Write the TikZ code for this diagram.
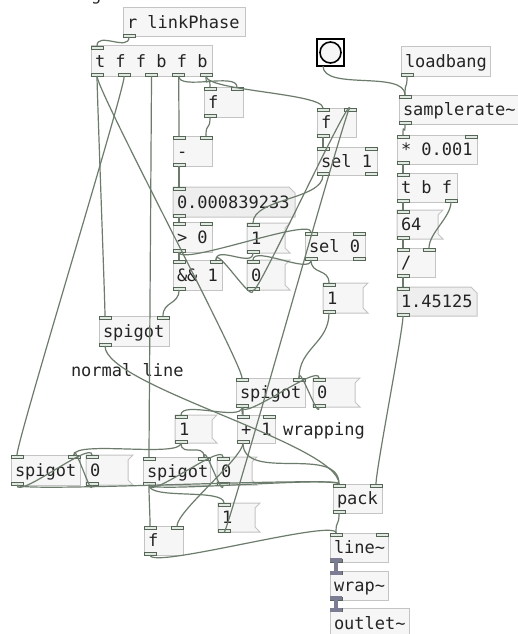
\documentclass[tikz,border=0pt]{standalone}
\usepackage{fontspec}
\setmonofont{DejaVu Sans Mono}

\definecolor{boxline}{HTML}{C4C4C4}
\definecolor{boxfill}{HTML}{F6F6F6}
\definecolor{numfill}{HTML}{EEEEEE}
\definecolor{portline}{HTML}{566656}
\definecolor{portfill}{HTML}{E2E8E2}
\definecolor{cordc}{HTML}{6C7C6C}
\definecolor{sigc}{HTML}{7C7C92}
\definecolor{txt}{HTML}{242424}

\tikzset{
  pdshape/.style={inner sep=0pt, outer sep=0pt},
  pdtext/.style={inner sep=0pt, outer sep=0pt, text=txt, font=\ttfamily\fontsize{17}{19}\selectfont},
  boxpath/.style={draw=boxline, fill=boxfill, line width=1pt},
  numpath/.style={draw=boxline, fill=numfill, line width=1pt},
  port/.style={draw=portline, fill=portfill, line width=0.9pt},
  sigport/.style={fill=sigc},
  cord/.style={draw=cordc, line width=1.2pt, to path={.. controls +(0,#1) and +(0,-#1) .. (\tikztotarget)}},
  cord/.default=15,
  sigcord/.style={draw=sigc, line width=4.5pt},
}

\newcommand\pdports[4]{%
  \ifnum#3>0
    \pgfmathtruncatemacro\plast{#3-1}%
    \foreach \k in {0,...,\plast}{%
      \pgfmathsetmacro\px{\k*(#2-12)/max(#3-1,1)}%
      \pgfmathsetmacro\pc{\px+6}%
      \draw[port] ([xshift=\px pt]#1.north west) rectangle ++(12,3);
      \coordinate (#1-i\k) at ([xshift=\pc pt]#1.north west);
    }%
  \fi
  \ifnum#4>0
    \pgfmathtruncatemacro\plast{#4-1}%
    \foreach \k in {0,...,\plast}{%
      \pgfmathsetmacro\px{\k*(#2-12)/max(#4-1,1)}%
      \pgfmathsetmacro\pc{\px+6}%
      \draw[port] ([xshift=\px pt]#1.south west) rectangle ++(12,-3);
      \coordinate (#1-o\k) at ([xshift=\pc pt]#1.south west);
    }%
  \fi}

\newcommand\pdnode[5]{%
  \node[pdshape, minimum width=#4pt, minimum height=#5pt, anchor=north west] (#1) at (#2,#3) {};}

\newcommand\pdlabel[3]{%
  \pgfmathsetmacro\ty{-(#2/2+6)}%
  \node[pdtext, anchor=base west] (#1-t) at ([xshift=4pt,yshift=\ty pt]#1.north west) {#3};}

\newcommand\pdobj[8]{%
  \pdnode{#1}{#2}{#3}{#4}{#5}
  \draw[boxpath] (#1.north west) rectangle (#1.south east);
  \pdlabel{#1}{#5}{#6}
  \pdports{#1}{#4}{#7}{#8}}

\newcommand\pdmsg[6]{%
  \pdnode{#1}{#2}{#3}{#4}{#5}
  \draw[boxpath] (#1.north west) -- (#1.north east) -- ([xshift=-5pt,yshift=-5pt]#1.north east)
    -- ([xshift=-5pt,yshift=5pt]#1.south east) -- (#1.south east) -- (#1.south west) -- cycle;
  \pdlabel{#1}{#5}{#6}
  \pdports{#1}{#4}{1}{1}}

\newcommand\pdnum[6]{%
  \pdnode{#1}{#2}{#3}{#4}{#5}
  \draw[numpath] (#1.north west) -- ([xshift=-6pt]#1.north east) -- ([yshift=-6pt]#1.north east)
    -- (#1.south east) -- (#1.south west) -- cycle;
  \pdlabel{#1}{#5}{#6}
  \pdports{#1}{#4}{1}{1}}

\begin{document}
\begin{tikzpicture}[x=1pt,y=-1pt]
\useasboundingbox (0,0) rectangle (517,634);
\fill[white] (0,0) rectangle (517,634);
\node[pdtext, anchor=base west] (cutoff) at (91,0.5) {g};

\pdobj{linkphase}{123}{8}{122}{29}{r linkPhase}{0}{1}
\pdobj{trig}{91}{46}{121}{30}{t f f b f b}{1}{5}
\pdobj{fprev}{204}{87}{39}{30}{f}{2}{1}
\pdobj{minus}{173}{136}{39}{30}{-}{2}{1}
\pdnum{diffnum}{173}{187}{122}{30}{0.000839233}
\pdobj{gtzero}{173}{222}{39}{30}{> 0}{2}{1}
\pdobj{andone}{173}{260}{49}{30}{\&\& 1}{2}{1}
\pdmsg{setone}{247}{223}{43}{30}{1}
\pdmsg{setzero}{247}{260}{43}{30}{0}
\pdobj{selzero}{305}{232}{60}{28}{sel 0}{2}{2}
\pdmsg{openwrap}{323}{283}{45}{30}{1}
\pdobj{flag}{317}{108}{39}{29}{f}{2}{1}
\pdobj{selone}{317}{147}{60}{28}{sel 1}{2}{2}

\node[draw=black, fill=white, line width=2.5pt, minimum size=27pt, inner sep=0pt, outer sep=0pt, anchor=north west] (bang) at (317,39) {};
\draw[line width=1.6pt, fill=boxfill] (bang.center) circle (10.5);
\coordinate (bang-o0) at ([xshift=6pt]bang.south west);

\pdobj{loadbang}{401}{47}{89}{29}{loadbang}{0}{1}
\pdobj{srate}{399}{95}{122}{29}{samplerate\textasciitilde}{1}{1}
\pdobj{scale}{397}{135}{80}{29}{* 0.001}{2}{1}
\pdobj{tbf}{397}{173}{60}{29}{t b f}{1}{2}
\pdmsg{blocksize}{397}{210}{46}{29}{64}
\pdobj{divide}{397}{248}{38}{29}{/}{2}{1}
\pdnum{ratenum}{397}{287}{80}{29}{1.45125}

\pdobj{spnormal}{99}{316}{70}{30}{spigot}{2}{1}
\node[pdtext, anchor=base west] (lblnormal) at (71,376) {normal line};
\pdobj{spwrap}{236}{378}{69}{29}{spigot}{2}{1}
\pdmsg{closewrap}{313}{378}{47}{29}{0}
\pdmsg{trigone}{175}{415}{42}{28}{1}
\pdobj{plusone}{237}{415}{38}{28}{+ 1}{2}{1}
\node[pdtext, anchor=base west] (lblwrap) at (283,435.5) {wrapping};
\pdobj{spleft}{11}{455}{69}{30}{spigot}{2}{1}
\pdmsg{closeleft}{86}{455}{47}{30}{0}
\pdobj{spmid}{143}{457}{67}{28}{spigot}{2}{1}
\pdmsg{closemid}{217}{457}{40}{28}{0}
\pdmsg{setflag}{218}{503}{42}{29}{1}
\pdobj{flow}{144}{526}{39}{29}{f}{2}{1}
\pdobj{pack}{333}{484}{49}{29}{pack}{2}{1}
\pdobj{linet}{330}{533}{58}{29}{line\textasciitilde}{2}{1}
\pdobj{wrapt}{330}{571}{58}{29}{wrap\textasciitilde}{1}{1}
\pdobj{outlett}{330}{608}{79}{30}{outlet\textasciitilde}{1}{0}

\fill[sigport] (linet.south west) rectangle ++(12,-4);
\fill[sigport] (wrapt.north west) rectangle ++(12,4);
\fill[sigport] (wrapt.south west) rectangle ++(12,-4);
\fill[sigport] (outlett.north west) rectangle ++(12,4);
\draw[sigcord] (linet-o0) -- (wrapt-i0);
\draw[sigcord] (wrapt-o0) -- (outlett-i0);

\draw[cord] (linkphase-o0) to (trig-i0);
\draw[cord] (trig-o0) to (spnormal-i0);
\draw[cord] (trig-o0) to (spwrap-i0);
\draw[cord] (trig-o1) to (spleft-i0);
\draw[cord] (trig-o2) to (spmid-i0);
\draw[cord] (trig-o3) to (minus-i0);
\draw[cord] (trig-o3) to (fprev-i1);
\draw[cord] (trig-o4) to (fprev-i0);
\draw[cord] (trig-o4) to (flag-i0);
\draw[cord] (fprev-o0) to (minus-i1);
\draw[cord] (minus-o0) to (diffnum-i0);
\draw[cord] (diffnum-o0) to (gtzero-i0);
\draw[cord] (gtzero-o0) to (andone-i0);
\draw[cord] (gtzero-o0) to (selzero-i0);
\draw[cord] (andone-o0) to (spnormal-i1);
\draw[cord] (flag-o0) to (selone-i0);
\draw[cord=25] (selone-o0) to (setone-i0);
\draw[cord] (setone-o0) to (andone-i1);
\draw[cord] (selzero-o0) to (setzero-i0);
\draw[cord] (selzero-o0) to (openwrap-i0);
\draw[cord] (setzero-o0) to (andone-i1);
\draw[cord] (setzero-o0) to (flag-i1);
\draw[cord=30] (openwrap-o0) to (spwrap-i1);
\draw[cord] (spwrap-o0) to (plusone-i0);
\draw[cord] (spwrap-o0) to (closewrap-i0);
\draw[cord] (closewrap-o0) to (spwrap-i1);
\draw[cord] (spwrap-o0) to (trigone-i0);
\draw[cord] (trigone-o0) to (spleft-i1);
\draw[cord] (trigone-o0) to (spmid-i1);
\draw[cord=40] (plusone-o0) to (pack-i0);
\draw[cord] (plusone-o0) to (flow-i1);
\draw[cord=40] (spnormal-o0) to (pack-i0);
\draw[cord=8] (spleft-o0) to (pack-i0);
\draw[cord] (spleft-o0) to (closeleft-i0);
\draw[cord] (closeleft-o0) to (spleft-i1);
\draw[cord=8] (spmid-o0) to (pack-i0);
\draw[cord] (spmid-o0) to (flow-i0);
\draw[cord] (spmid-o0) to (closemid-i0);
\draw[cord] (closemid-o0) to (spmid-i1);
\draw[cord] (spmid-o0) to (setflag-i0);
\draw[cord] (setflag-o0) to (flag-i1);
\draw[cord] (flow-o0) to (linet-i0);
\draw[cord] (pack-o0) to (linet-i0);
\draw[cord=25] (bang-o0) to (srate-i0);
\draw[cord] (loadbang-o0) to (srate-i0);
\draw[cord] (srate-o0) to (scale-i0);
\draw[cord] (scale-o0) to (tbf-i0);
\draw[cord] (tbf-o0) to (blocksize-i0);
\draw[cord] (tbf-o1) to (divide-i1);
\draw[cord] (blocksize-o0) to (divide-i0);
\draw[cord] (divide-o0) to (ratenum-i0);
\draw[cord] (ratenum-o0) to (pack-i1);
\end{tikzpicture}
\end{document}
